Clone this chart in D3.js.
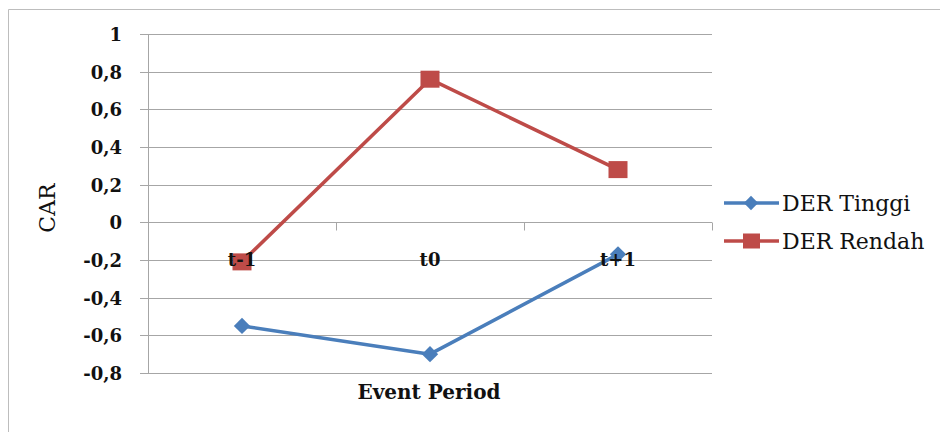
<!DOCTYPE html>
<html>
<head>
<meta charset="utf-8">
<script src="https://cdn.jsdelivr.net/npm/d3@7"></script>
<style>
  html, body { margin: 0; padding: 0; background: #fff; }
  svg { display: block; }
</style>
</head>
<body>
<svg id="chart" width="940" height="432"></svg>
<script>
// Event periods and cumulative abnormal returns per group
const categories = ["t-1", "t0", "t+1"];
const derTinggi = [-0.55, -0.70, -0.17];
const derRendah = [-0.21, 0.76, 0.28];
const yTicks = [1, 0.8, 0.6, 0.4, 0.2, 0, -0.2, -0.4, -0.6, -0.8];
const seriesNames = ["DER Tinggi", "DER Rendah"];

const svg = d3.select("#chart");
const serif = "'DejaVu Serif', 'Liberation Serif', serif";
const gridColor = "#a6a6a6";
const blue = "#4a7ebb";
const red = "#be4b48";

// Chart frame
svg.append("path")
  .attr("d", "M8.5,432 V9.5 H940")
  .attr("fill", "none").attr("stroke", "#bdbdbd").attr("stroke-width", 1);

const plot = { left: 148, right: 712, top: 34, bottom: 373 };

const x = d3.scaleBand().domain(categories).range([plot.left, plot.right]).padding(0);
const y = d3.scaleLinear().domain([-0.8, 1]).range([plot.bottom, plot.top]);

// Decimal comma, plain hyphen for negatives
const locale = d3.formatLocale({ decimal: ",", thousands: ".", grouping: [3], currency: ["", ""], minus: "-" });
const fmt1 = locale.format(".1f");
const fmt = d => (d === 0 ? "0" : d === 1 ? "1" : fmt1(d));

// Horizontal gridlines with outer tick marks
const yAxis = d3.axisLeft(y)
  .tickValues(yTicks)
  .tickSize(-(plot.right - plot.left))
  .tickFormat(fmt);

const gy = svg.append("g").attr("transform", `translate(${plot.left},0)`).call(yAxis);
gy.select(".domain").remove();
gy.selectAll(".tick line").attr("stroke", gridColor).attr("x1", -8).attr("shape-rendering", "crispEdges");
gy.selectAll(".tick text")
  .attr("x", -26).attr("dy", "0.36em")
  .attr("font-family", serif).attr("font-weight", "bold").attr("font-size", 18)
  .attr("fill", "#111");

// Vertical axis line
svg.append("line")
  .attr("x1", plot.left + 0.5).attr("x2", plot.left + 0.5)
  .attr("y1", y(1)).attr("y2", y(-0.8))
  .attr("stroke", gridColor).attr("stroke-width", 1);

// Category axis crossing at zero, with ticks at category boundaries
const y0 = Math.round(y(0)) + 0.5;
const boundaries = categories.map(c => x(c)).concat([x(categories[categories.length - 1]) + x.bandwidth()]);
svg.append("g").selectAll("line").data(boundaries).join("line")
  .attr("x1", d => Math.round(d) + 0.5).attr("x2", d => Math.round(d) + 0.5)
  .attr("y1", y0).attr("y2", y0 + 8)
  .attr("stroke", gridColor);

// Series lines and markers
const line = d3.line()
  .x((d, i) => x(categories[i]) + x.bandwidth() / 2)
  .y(d => y(d));

svg.append("path").datum(derTinggi)
  .attr("d", line).attr("fill", "none").attr("stroke", blue).attr("stroke-width", 3.5)
  .attr("stroke-linejoin", "round");
svg.append("path").datum(derRendah)
  .attr("d", line).attr("fill", "none").attr("stroke", red).attr("stroke-width", 3.5)
  .attr("stroke-linejoin", "round");

const diamond = d3.symbol().type(d3.symbolDiamond2).size(170);
svg.append("g").selectAll("path").data(derTinggi).join("path")
  .attr("d", diamond)
  .attr("transform", (d, i) => `translate(${x(categories[i]) + x.bandwidth() / 2},${y(d)})`)
  .attr("fill", blue);

svg.append("g").selectAll("rect").data(derRendah).join("rect")
  .attr("x", (d, i) => x(categories[i]) + x.bandwidth() / 2 - 9.5)
  .attr("y", d => y(d) - 8.5)
  .attr("width", 19).attr("height", 17)
  .attr("fill", red);

// Category labels drawn over the marks
svg.append("g").selectAll("text").data(categories).join("text")
  .attr("x", d => x(d) + x.bandwidth() / 2)
  .attr("y", 266)
  .attr("text-anchor", "middle")
  .attr("font-family", serif).attr("font-weight", "bold").attr("font-size", 18)
  .attr("fill", "#111")
  .text(d => d);

// Axis titles
svg.append("text")
  .attr("x", 429).attr("y", 399)
  .attr("text-anchor", "middle")
  .attr("font-family", serif).attr("font-weight", "bold").attr("font-size", 20)
  .attr("fill", "#111")
  .text("Event Period");

svg.append("text")
  .attr("transform", "translate(55,208) rotate(-90)")
  .attr("text-anchor", "middle")
  .attr("font-family", serif).attr("font-size", 22)
  .attr("fill", "#111")
  .text("CAR");

// Legend
const legend = svg.append("g");
const legendRows = [
  { name: seriesNames[0], color: blue, marker: "diamond", yPos: 203 },
  { name: seriesNames[1], color: red, marker: "square", yPos: 241 }
];
legendRows.forEach(r => {
  legend.append("line")
    .attr("x1", 724).attr("x2", 779).attr("y1", r.yPos).attr("y2", r.yPos)
    .attr("stroke", r.color).attr("stroke-width", 3.5);
  if (r.marker === "diamond") {
    legend.append("path").attr("d", d3.symbol().type(d3.symbolDiamond2).size(130))
      .attr("transform", `translate(751,${r.yPos})`).attr("fill", r.color);
  } else {
    legend.append("rect").attr("x", 743).attr("y", r.yPos - 7.5).attr("width", 17).attr("height", 15)
      .attr("fill", r.color);
  }
  legend.append("text")
    .attr("x", 782).attr("y", r.yPos + 8)
    .attr("font-family", serif).attr("font-size", 22)
    .attr("fill", "#111")
    .text(r.name);
});
</script>
</body>
</html>
